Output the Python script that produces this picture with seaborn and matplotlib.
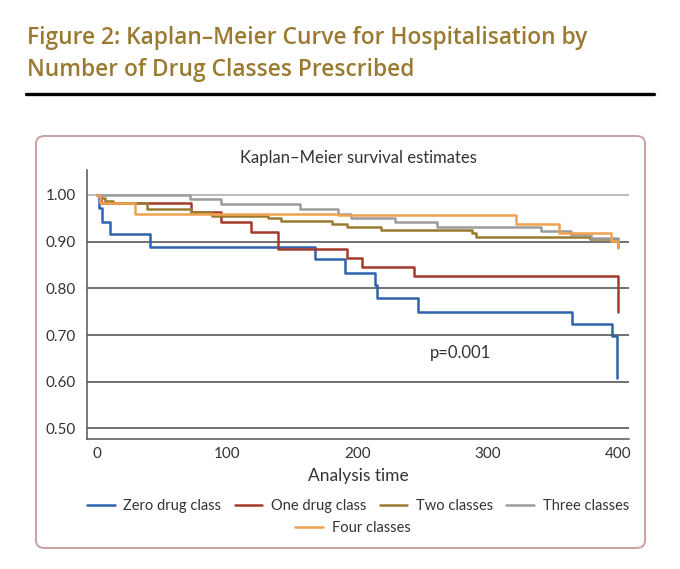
import numpy as np
import pandas as pd
import matplotlib
matplotlib.use("Agg")
import matplotlib.pyplot as plt
import seaborn as sns
from matplotlib.patches import FancyBboxPatch
from matplotlib.lines import Line2D

# --- data (time, survival) ---
zero_t = [0, 1.5, 3.5, 10, 40.5, 167, 190, 213.7, 214.8, 246.6, 364.3, 395, 399, 399.3]
zero_s = [1.0, 0.973, 0.943, 0.917, 0.888, 0.862, 0.833, 0.807, 0.780, 0.750, 0.724, 0.698, 0.698, 0.609]

one_t = [0, 3, 72, 95.5, 118.5, 139, 191.5, 203, 243, 399.5]
one_s = [1.0, 0.983, 0.963, 0.943, 0.921, 0.884, 0.864, 0.845, 0.827, 0.749]

two_t = [0, 2, 6, 12, 38, 72, 88, 131, 141, 180, 192, 218, 288, 291, 378, 399, 399.5]
two_s = [1.0, 0.994, 0.988, 0.983, 0.970, 0.964, 0.956, 0.950, 0.944, 0.938, 0.931, 0.924, 0.918, 0.909, 0.905, 0.905, 0.888]

three_t = [0, 71, 95.5, 156, 185, 195, 229, 261, 341, 364, 379, 399.5]
three_s = [1.0, 0.992, 0.981, 0.970, 0.960, 0.950, 0.942, 0.931, 0.922, 0.915, 0.908, 0.904]

four_t = [0, 2.5, 29, 185, 321.6, 354.6, 394.5, 399, 399.5]
four_s = [1.0, 0.983, 0.959, 0.957, 0.938, 0.919, 0.901, 0.901, 0.886]

groups = ["Zero drug class", "One drug class", "Two classes", "Three classes", "Four classes"]
colors = ["#2f63ab", "#a33a2b", "#9a7a2e", "#9c9c9c", "#f0a24f"]
yticks = [0.50, 0.60, 0.70, 0.80, 0.90, 1.00]
xticks = [0, 100, 200, 300, 400]

frames = []
for name, t, s in zip(groups,
                      [zero_t, one_t, two_t, three_t, four_t],
                      [zero_s, one_s, two_s, three_s, four_s]):
    frames.append(pd.DataFrame({"time": t, "survival": s, "group": name}))
df = pd.concat(frames, ignore_index=True)

sns.set_style("white")
plt.rcParams["font.family"] = ["Lato", "DejaVu Sans"]

fig = plt.figure(figsize=(6.8, 5.69), dpi=100)
ax = fig.add_axes([87/680, 1-439/569, (629-87)/680, (439-170)/569])

# grid lines behind curves
for y in yticks:
    ax.axhline(y, color="#aaaaaa" if y == 1.0 else "#4a4a4a", lw=1.1, zorder=1)

sns.lineplot(data=df, x="time", y="survival", hue="group", hue_order=groups,
             palette=colors, estimator=None, sort=False, drawstyle="steps-post",
             linewidth=1.8, ax=ax, zorder=3)

ax.set_xlim(-7.7, 408.3)
ax.set_ylim(0.4775, 1.0535)
ax.set_xticks(xticks)
ax.set_yticks(yticks)
ax.set_yticklabels([f"{v:.2f}" for v in yticks])
ax.tick_params(length=0, labelsize=11, colors="#333333", pad=8)
ax.tick_params(axis="x", pad=6)
for side in ["top", "right"]:
    ax.spines[side].set_visible(False)
for side in ["left", "bottom"]:
    ax.spines[side].set_color("#555555")
    ax.spines[side].set_linewidth(1.1)
ax.set_xlabel("Analysis time", fontsize=12.5, color="#333333", labelpad=5)
ax.set_ylabel("")
ax.text(255.6, 0.662, "p=0.001", fontsize=12, color="#333333", va="center")

ax.get_legend().remove()
handles = [Line2D([], [], color=c, lw=1.8) for c in colors]
leg_kw = dict(frameon=False, fontsize=10.5, handlelength=1.9, handletextpad=0.6,
              columnspacing=0.9, labelcolor="#333333")
fig.legend(handles[:4], groups[:4], ncol=4, loc="center",
           bbox_to_anchor=(358/680, 1-506/569), **leg_kw)
fig.legend(handles[4:], groups[4:], ncol=1, loc="center",
           bbox_to_anchor=(353/680, 1-528/569), **leg_kw)

# subtitle, outer frame, figure title
fig.text(358/680, 1-158/569, "Kaplan\u2013Meier survival estimates", ha="center",
         va="center", fontsize=12, color="#333333")
frame = FancyBboxPatch((36/680, 1-548/569), (645-36)/680, (548-136)/569,
                       boxstyle="round,pad=0,rounding_size=0.013",
                       transform=fig.transFigure, fill=False,
                       edgecolor="#c9a2a2", linewidth=1.4)
fig.patches.append(frame)

title_kw = dict(family=["Open Sans", "DejaVu Sans"], fontsize=16.4, fontweight="semibold",
                color="#9a7a30", va="baseline")
fig.text(27/680, 1-44/569, "Figure 2: Kaplan\u2013Meier Curve for Hospitalisation by", **title_kw)
fig.text(27/680, 1-76/569, "Number of Drug Classes Prescribed", **title_kw)
fig.add_artist(Line2D([26/680, 654/680], [1-94/569, 1-94/569],
                      color="black", lw=2.4, transform=fig.transFigure))

fig.savefig("out.png", dpi=100)
